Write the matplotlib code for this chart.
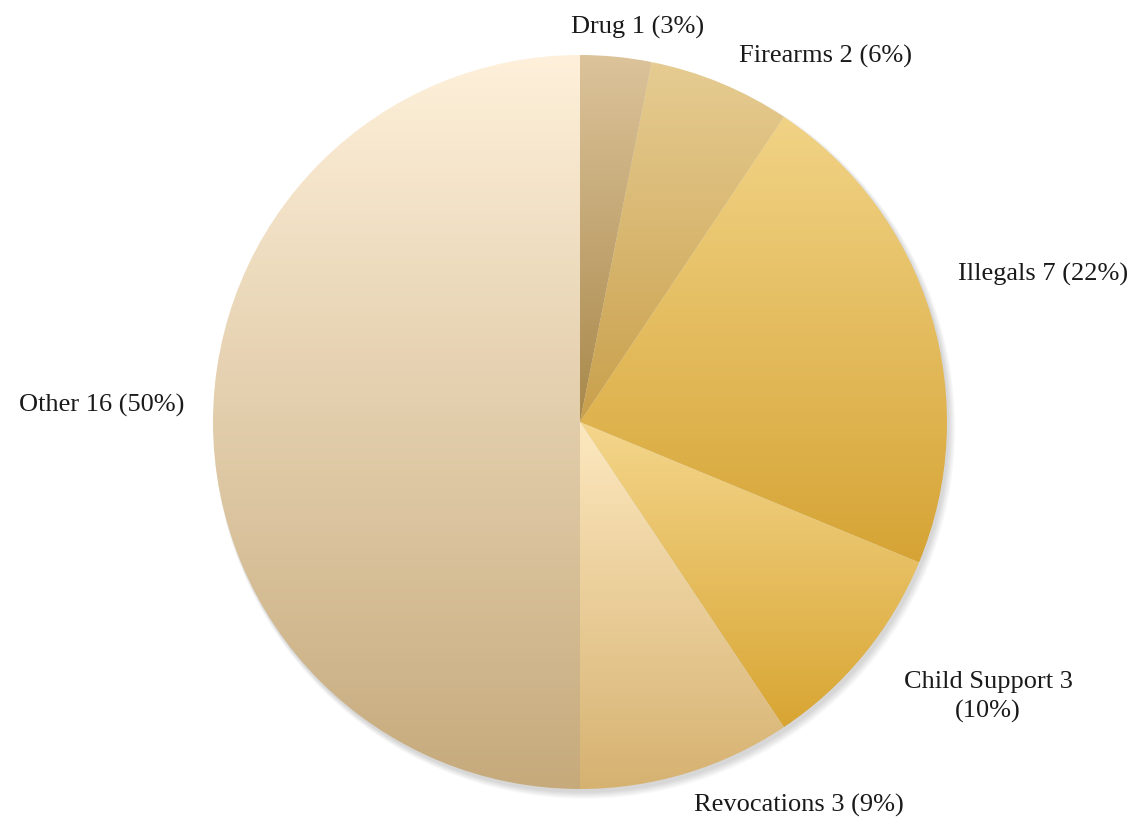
import numpy as np
import matplotlib
matplotlib.use("Agg")
import matplotlib.pyplot as plt
from matplotlib.colors import LinearSegmentedColormap
from matplotlib.patches import Circle

# Case categories and counts
categories = ["Drug", "Firearms", "Illegals", "Child Support", "Revocations", "Other"]
counts = [1, 2, 7, 3, 3, 16]
percent_labels = ["3%", "6%", "22%", "10%", "9%", "50%"]

# Vertical gradient (top colour, bottom colour) for each slice
slice_gradients = [
    ("#dcc39a", "#a8884a"),
    ("#e6cc92", "#c9a04c"),
    ("#f1d386", "#d6a435"),
    ("#f4d68c", "#d8a532"),
    ("#fde8bf", "#d6b271"),
    ("#fef0da", "#c6aa7c"),
]

# Label anchor points in data units (pie radius = 1)
label_xy = [
    (0.158, 1.076),
    (0.670, 0.997),
    (1.262, 0.401),
    (1.112, -0.749),
    (0.597, -1.044),
    (-1.302, 0.046),
]

W, H = 1138, 823
R_PX = 367.0
CX, CY = 580.0, 422.0

fig = plt.figure(figsize=(W / 100, H / 100), dpi=100)
ax = fig.add_axes([0, 0, 1, 1])
ax.set_xlim(-CX / R_PX, (W - CX) / R_PX)
ax.set_ylim((CY - H) / R_PX, CY / R_PX)
ax.set_aspect("equal")
ax.axis("off")

# faint drop shadow below the pie
for i in range(8):
    off = 0.003 * i
    ax.add_patch(Circle((0.006 + off * 0.3, -0.010 - off * 0.3), 1.0 + 0.0015 * i,
                        facecolor="#000000", alpha=0.018, edgecolor="none", zorder=0))

wedges, _ = ax.pie(counts, startangle=90, counterclock=False, radius=1.0,
                   colors=["none"] * len(counts),
                   wedgeprops=dict(linewidth=0, edgecolor="none"))

for w, (top, bot) in zip(wedges, slice_gradients):
    w.set_zorder(2)
    verts = w.get_patch_transform().transform(w.get_path().vertices)
    x0, y0 = verts.min(axis=0)
    x1, y1 = verts.max(axis=0)
    cmap = LinearSegmentedColormap.from_list("g", [top, bot])
    grad = np.linspace(0, 1, 256).reshape(-1, 1)
    grad = np.repeat(grad, 2, axis=1)
    im = ax.imshow(grad, cmap=cmap, extent=(x0, x1, y0, y1), origin="upper",
                   aspect="auto", interpolation="bilinear", zorder=2)
    im.set_clip_path(w)

ax.set_xlim(-CX / R_PX, (W - CX) / R_PX)
ax.set_ylim((CY - H) / R_PX, CY / R_PX)

for i, (cat, n, pct) in enumerate(zip(categories, counts, percent_labels)):
    if cat == "Child Support":
        txt = f"{cat} {n}\n({pct})"
    else:
        txt = f"{cat} {n} ({pct})"
    ax.text(label_xy[i][0], label_xy[i][1], txt, ha="center", va="center",
            fontsize=19, family="Liberation Serif", color="#1a1a1a",
            linespacing=1.4, zorder=5)

fig.savefig("out.png", dpi=100, facecolor="white")
